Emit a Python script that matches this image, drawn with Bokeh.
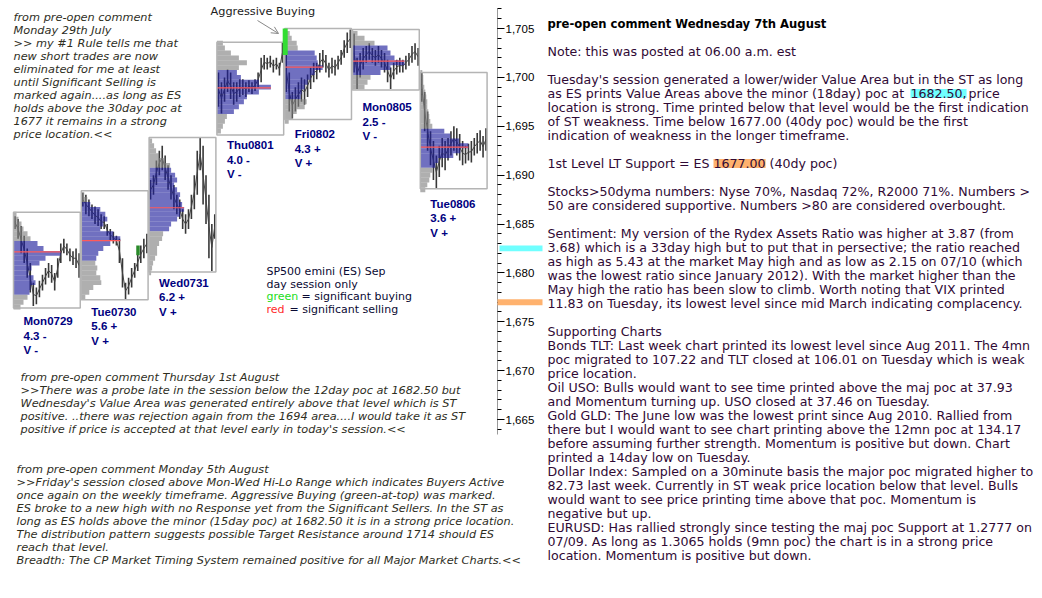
from bokeh.plotting import figure
from bokeh.models import (Range1d, Label, Arrow, OpenHead,
                          SingleIntervalTicker, NumeralTickFormatter)
from bokeh.embed import file_html
from bokeh.resources import INLINE

# ---------------- data ----------------
days = ["Mon0729", "Tue0730", "Wed0731", "Thu0801", "Fri0802", "Mon0805", "Tue0806"]
day_range = ["4.3 -", "5.6 +", "6.2 +", "4.0 -", "4.3 +", "2.5 -", "3.6 +"]
day_vol = ["V -", "V +", "V +", "V -", "V +", "V -", "V +"]
day_high = [1686.2, 1688.4, 1693.85, 1703.6, 1705.0, 1704.9, 1700.5]
day_low = [1676.4, 1677.25, 1680.1, 1694.1, 1695.7, 1698.7, 1688.6]
poc = [1682.15, 1683.3, 1686.66, 1698.93, 1701.04, 1701.66, 1692.86]
va_high = [1683.0, 1687.0, 1690.5, 1700.5, 1702.5, 1703.0, 1694.5]
va_low = [1678.0, 1681.5, 1684.5, 1696.5, 1698.0, 1700.5, 1691.0]

# volume profile rows (0.5 pt), listed from the top row price downward
prof_top = [1686.0, 1688.0, 1693.5, 1703.5, 1704.5, 1704.5, 1700.5]
prof_mon0729 = [3, 5, 8, 10, 14, 17, 24, 30, 47, 32, 26, 18, 15, 20, 22, 17, 16, 14, 10, 7]
prof_tue0730 = [3, 6, 9, 19, 24, 26, 22, 19, 32, 39, 29, 22, 17, 15, 14, 16, 15, 19, 20, 12, 8, 4]
prof_wed0731 = [3, 5, 7, 10, 16, 21, 22, 26, 28, 25, 28, 31, 30, 33, 35, 31, 28, 22, 20,
                14, 13, 10, 8, 8, 6, 4, 3, 2]
prof_thu0801 = [6, 8, 14, 22, 30, 22, 20, 24, 42, 54, 42, 30, 27, 22, 17, 10, 8, 6, 4]
prof_fri0802 = [5, 7, 12, 13, 30, 32, 33, 38, 30, 26, 23, 20, 17, 16, 22, 20, 12, 8, 4]
prof_mon0805 = [5, 12, 22, 35, 38, 42, 52, 38, 28, 18, 15, 12]
prof_tue0806 = [2, 3, 3, 4, 5, 6, 7, 7, 8, 9, 10, 12, 24, 30, 39, 48, 40, 33, 18, 15,
                12, 10, 9, 7, 5]
profiles = [prof_mon0729, prof_tue0730, prof_wed0731, prof_thu0801,
            prof_fri0802, prof_mon0805, prof_tue0806]

# price bars (high / low)
hi_mon0729 = [1685.8, 1685.5, 1684.8, 1683.8, 1682.5, 1681.0, 1679.0, 1678.5, 1679.2, 1679.8, 1680.5,
              1681.0, 1680.8, 1680.0, 1681.5, 1683.0, 1683.5, 1683.0, 1682.5, 1682.2, 1682.5, 1682.0]
lo_mon0729 = [1684.5, 1683.5, 1682.0, 1681.0, 1679.5, 1678.0, 1676.6, 1676.8, 1677.5, 1678.2, 1678.8,
              1679.5, 1679.0, 1678.2, 1679.5, 1681.0, 1682.0, 1681.8, 1681.2, 1680.8, 1680.5, 1679.5]
hi_tue0730 = [1688.2, 1688.0, 1687.5, 1687.0, 1686.8, 1686.5, 1686.0, 1685.8, 1685.0, 1684.5, 1684.2,
              1683.8, 1683.5, 1681.5, 1679.0, 1679.5, 1680.5, 1681.0, 1682.0, 1682.8, 1683.5, 1684.0]
lo_tue0730 = [1686.8, 1686.0, 1685.8, 1685.5, 1685.0, 1684.8, 1684.5, 1684.5, 1683.8, 1683.3, 1683.0,
              1682.8, 1681.0, 1678.5, 1677.3, 1677.8, 1678.5, 1679.5, 1680.2, 1681.0, 1681.5, 1682.0]
hi_wed0731 = [1689.5, 1690.0, 1691.5, 1692.5, 1693.0, 1692.0, 1691.0, 1690.0, 1689.0, 1688.0, 1687.5,
              1686.5, 1686.0, 1686.5, 1688.0, 1690.0, 1692.5, 1693.8, 1693.0, 1690.0, 1688.0, 1685.0, 1686.0]
lo_wed0731 = [1687.5, 1688.0, 1689.0, 1690.0, 1690.5, 1689.5, 1688.5, 1687.5, 1686.5, 1686.0, 1685.5,
              1684.5, 1684.0, 1684.5, 1685.5, 1686.5, 1688.0, 1690.5, 1687.0, 1685.0, 1681.5, 1680.2, 1683.5]
hi_thu0801 = [1700.5, 1699.5, 1700.0, 1700.8, 1700.5, 1699.5, 1699.5, 1699.8, 1699.8, 1699.5, 1699.7,
              1699.5, 1699.8, 1700.5, 1702.0, 1702.3, 1702.0, 1702.2, 1701.8, 1702.0, 1701.5, 1703.6]
lo_thu0801 = [1697.0, 1696.3, 1697.5, 1698.5, 1697.8, 1697.2, 1697.5, 1698.0, 1698.2, 1698.0, 1698.5,
              1698.3, 1698.6, 1699.0, 1699.5, 1700.8, 1700.8, 1701.0, 1700.5, 1700.8, 1700.2, 1701.5]
hi_fri0802 = [1703.0, 1700.5, 1698.5, 1699.0, 1699.5, 1700.0, 1699.8, 1700.3, 1701.0, 1701.5, 1701.5,
              1702.5, 1702.8, 1702.3, 1701.5, 1702.0, 1701.8, 1702.2, 1702.8, 1703.8, 1704.6, 1704.9]
lo_fri0802 = [1698.5, 1696.5, 1695.8, 1696.5, 1697.0, 1697.5, 1697.2, 1698.0, 1698.8, 1699.5, 1699.8,
              1700.5, 1701.0, 1700.5, 1700.0, 1700.4, 1700.2, 1700.8, 1701.3, 1702.0, 1702.5, 1703.0]
hi_mon0805 = [1704.5, 1702.0, 1702.5, 1703.0, 1703.2, 1703.5, 1703.0, 1702.8, 1703.2, 1702.8, 1702.5,
              1701.8, 1701.0, 1701.5, 1701.8, 1702.0, 1701.8, 1702.2, 1702.5, 1703.2, 1703.5, 1703.0]
lo_mon0805 = [1700.5, 1698.8, 1700.0, 1700.8, 1701.5, 1701.8, 1701.5, 1701.2, 1701.5, 1701.0, 1700.5,
              1699.5, 1698.8, 1699.8, 1700.3, 1700.5, 1700.5, 1700.8, 1701.2, 1701.5, 1701.8, 1701.2]
hi_tue0806 = [1700.5, 1698.5, 1696.5, 1694.5, 1693.5, 1692.0, 1693.0, 1693.8, 1693.5, 1693.8, 1694.5,
              1695.0, 1694.8, 1694.2, 1693.5, 1693.0, 1693.2, 1693.5, 1693.8, 1694.3, 1694.6, 1694.0, 1694.8]
lo_tue0806 = [1697.5, 1694.5, 1692.5, 1691.0, 1689.5, 1688.6, 1689.8, 1690.8, 1690.5, 1691.5, 1692.0,
              1692.5, 1692.0, 1691.5, 1691.0, 1691.2, 1691.5, 1691.3, 1692.0, 1692.2, 1692.5, 1691.8, 1692.5]
bar_hi = [hi_mon0729, hi_tue0730, hi_wed0731, hi_thu0801, hi_fri0802, hi_mon0805, hi_tue0806]
bar_lo = [lo_mon0729, lo_tue0730, lo_wed0731, lo_thu0801, lo_fri0802, lo_mon0805, lo_tue0806]

# significant buying marks: (day index, session fraction, low, high)
buy_day = [1, 4]
buy_time = [0.84, 0.0]
buy_low = [1681.8, 1702.3]
buy_high = [1682.8, 1705.0]

# key levels marked beside the price scale
level_18day_poc = 1682.5
level_40day_poc = 1677.0

left_note = ["from pre-open comment", "Monday 29th July", ">> my #1 Rule tells me that",
             "new short trades are now", "eliminated for me at least",
             "until Significant Selling is", "marked again....as long as ES",
             "holds above the 30day poc at", "1677 it remains in a strong", "price location.<<"]
note_thu = ["from pre-open comment Thursday 1st August",
            ">>There was a probe late in the session below the 12day poc at 1682.50 but",
            "Wednesday's Value Area was generated entirely above that level which is ST",
            "positive. ..there was rejection again from the 1694 area....I would take it as ST",
            "positive if price is accepted at that level early in today's session.<<"]
note_mon = ["from pre-open comment Monday 5th August",
            ">>Friday's session closed above Mon-Wed Hi-Lo Range which indicates Buyers Active",
            "once again on the weekly timeframe.  Aggressive Buying (green-at-top) was marked.",
            "ES broke to a new high with no Response yet from the Significant Sellers.  In the ST as",
            "long as ES holds above the minor (15day poc) at 1682.50  it is in a strong price location.",
            "The distribution pattern suggests possible Target Resistance around 1714 should ES",
            "reach that level.",
            "Breadth: The CP Market Timing System remained positive for all Major Market Charts.<<"]
legend_lines = ["SP500 emini (ES) Sep", "day session only"]
right_title = "pre-open comment Wednesday 7th August"
right_lines = ["", "",
               "Note: this was posted at 06.00 a.m. est", "",
               "Tuesday's session generated a lower/wider Value Area but in the ST as long",
               "as ES prints Value Areas above the minor (18day) poc at 1682.50, price",
               "location is strong. Time printed below that level would be the first indication",
               "of ST weakness.  Time below 1677.00 (40dy poc) would be the first",
               "indication of weakness in the longer timeframe.", "",
               "1st Level LT Support = ES 1677.00 (40dy poc)", "",
               "Stocks>50dyma numbers: Nyse 70%, Nasdaq 72%, R2000 71%.  Numbers >",
               "50 are considered supportive.   Numbers >80 are considered overbought.", "",
               "Sentiment: My version of the Rydex Assets Ratio was higher at 3.87 (from",
               "3.68) which is a 33day high but to put that in persective; the ratio reached",
               "as high as 5.43 at the market May high and as low as 2.15 on 07/10 (which",
               "was the lowest ratio since January 2012).   With the market higher than the",
               "May high the ratio has been slow to climb.  Worth noting that VIX printed",
               "11.83 on Tuesday,  its lowest level since mid March indicating complacency.", "",
               "Supporting Charts",
               "Bonds TLT: Last week chart printed its lowest level since Aug 2011.  The 4mn",
               "poc migrated to 107.22 and TLT closed at 106.01 on Tuesday which is weak",
               "price location.",
               "Oil USO: Bulls would want to see time printed above the maj poc at 37.93",
               "and Momentum turning up. USO closed at 37.46 on Tuesday.",
               "Gold  GLD:  The June low was the lowest print since Aug 2010.  Rallied from",
               "there but I would want to see chart printing above the 12mn poc at 134.17",
               "before assuming further strength. Momentum is positive but down. Chart",
               "printed a 14day low on Tuesday.",
               "Dollar Index:  Sampled on a 30minute basis the major poc migrated higher to",
               "82.73 last week. Currently in ST weak price location below that level. Bulls",
               "would want to see price printing time above that poc.  Momentum is",
               "negative but up.",
               "EURUSD: Has rallied strongly since testing the maj poc Support at 1.2777 on",
               "07/09.  As long as 1.3065 holds (9mn poc) the chart is in a strong price",
               "location. Momentum is positive but down."]
highlight_text = ["1682.50,", "1677.00"]
highlight_line = [5, 10]

# ---------------- layout constants ----------------
W, H = 1042, 598
AXIS_PX = 497
DAY_PX = 67.8
X0_PX = 13.0
PX_PER_PT = 9.775
REF_PRICE, REF_Y = 1705.0, 28.0
LABEL_DY = -4.0


def xd(px):
    return (px - X0_PX) / DAY_PX


def yp(py):
    return REF_PRICE - (py - REF_Y) / PX_PER_PT


p = figure(width=W, height=H, output_backend="svg", toolbar_location=None,
           x_range=Range1d(xd(0), xd(W)), y_range=Range1d(yp(H), yp(0)),
           x_axis_location=None, y_axis_location="right", min_border=0)
p.outline_line_color = None
p.grid.visible = False
p.background_fill_color = "white"
p.border_fill_color = "white"

ax = p.yaxis[0]
ax.fixed_location = xd(AXIS_PX)
ax.ticker = SingleIntervalTicker(interval=5, num_minor_ticks=5)
ax.formatter = NumeralTickFormatter(format="0,0")
ax.bounds = (1663.5, 1707.0)
ax.axis_line_color = "#9a9a9a"
ax.major_tick_line_color = "black"
ax.minor_tick_line_color = "black"
ax.major_tick_in = 0
ax.major_tick_out = 7
ax.minor_tick_in = 0
ax.minor_tick_out = 4
ax.major_label_standoff = 1
ax.major_label_text_font = "Liberation Sans"
ax.major_label_text_font_size = "11.5px"
ax.major_label_text_color = "black"

ROW = 0.5
BLUE, GRAY = "#1c1c9c", "#808080"

# price bars
for d in range(len(days)):
    n = len(bar_hi[d])
    xs = [d + (i + 0.5) / n * 0.99 for i in range(n)]
    p.segment(x0=xs, x1=xs, y0=bar_lo[d], y1=bar_hi[d], line_color="#383838", line_width=1.6)
    mids = [(bar_hi[d][i] + bar_lo[d][i]) / 2 for i in range(n)]
    p.line(xs, mids, line_color="#444444", line_width=1)

# profiles
ql, qr, qt, qb, qc = [], [], [], [], []
for d, prof in enumerate(profiles):
    for k, w in enumerate(prof):
        price = prof_top[d] - k * ROW
        ql.append(d)
        qr.append(d + w / DAY_PX)
        qt.append(price + ROW / 2)
        qb.append(price - ROW / 2)
        inside = va_low[d] - 0.01 <= price <= va_high[d] + 0.01
        qc.append(BLUE if inside else GRAY)
p.quad(left=ql, right=qr, top=qt, bottom=qb, fill_color=qc, fill_alpha=0.63, line_color=None)

# poc lines
px0 = list(range(len(days)))
px1 = [d + max(profiles[d]) / DAY_PX for d in range(len(days))]
p.segment(x0=px0, x1=px1, y0=poc, y1=poc, line_color="#ff5a5a", line_width=1.2)

# day boxes
p.quad(left=px0, right=[d + 0.985 for d in px0], top=day_high, bottom=day_low,
       fill_color=None, line_color="#b4b4b4", line_width=1.5)

# buying marks
bl = [buy_day[i] + buy_time[i] - 2.0 / DAY_PX for i in range(len(buy_day))]
br = [buy_day[i] + buy_time[i] + (3.0 if buy_time[i] == 0 else 1.5) / DAY_PX for i in range(len(buy_day))]
p.quad(left=bl, right=br, top=buy_high, bottom=buy_low,
       fill_color=["#2a8a2a", "#33dd33"], line_color=None)

# key level marks beside the price scale
lv = [level_18day_poc, level_40day_poc]
p.quad(left=[xd(AXIS_PX + 2), xd(AXIS_PX)], right=[xd(542), xd(542)],
       bottom=[v - 0.3 for v in lv], top=[v + 0.3 for v in lv],
       fill_color=["#70ffff", "#ffb26e"], line_color=None, level="overlay")


def label(x_px, y_px, s, size, color, font="DejaVu Sans", style="normal", bg=None):
    kw = {}
    if bg is not None:
        kw = dict(background_fill_color=bg, background_fill_alpha=1.0)
    p.add_layout(Label(x=xd(x_px), y=yp(y_px + LABEL_DY), text=s, text_font=font,
                       text_font_size=size, text_color=color, text_font_style=style,
                       text_baseline="alphabetic", text_align="left", **kw))


# day labels
label_shift = [0, -1, -2, -3, 2, 4, 2]
for d in range(len(days)):
    base_px = REF_Y + (REF_PRICE - day_low[d]) * PX_PER_PT + 17 + label_shift[d]
    x_px = X0_PX + d * DAY_PX + 10
    for j, s in enumerate([days[d], day_range[d], day_vol[d]]):
        label(x_px, base_px + 14.5 * j, s, "11.5px", "#000080", font="Liberation Sans", style="bold")

# notes
NOTE_C = "#2e2e1e"
for i, s in enumerate(left_note):
    label(13, 21 + 13 * i, s, "11.3px", NOTE_C, style="italic")
for i, s in enumerate(note_thu):
    label(20, 381 + 13 * i, s, "11.3px", NOTE_C, style="italic")
for i, s in enumerate(note_mon):
    label(16, 473 + 13 * i, s, "11.3px", NOTE_C, style="italic")

# aggressive buying annotation
label(210, 15, "Aggressive Buying", "11.3px", "#222222")
p.add_layout(Arrow(end=OpenHead(size=7, line_color="#888888", line_width=1),
                   x_start=xd(257), y_start=yp(20), x_end=xd(278), y_end=yp(33),
                   line_color="#888888", line_width=1))

# legend text
LEG_C = "#0a0a33"
label(266, 275, legend_lines[0], "11px", LEG_C)
label(266, 288, legend_lines[1], "11px", LEG_C)
label(266, 300, "green", "11px", "#22dd22")
label(301, 300, "= significant buying", "11px", LEG_C)
label(266, 313, "red", "11px", "#ff2a2a")
label(289, 313, "= significant selling", "11px", LEG_C)

# right commentary
TXT_C = "#300a35"
RSIZE = "12.6px"
label(547, 27, right_title, "11.6px", "black", style="bold")
hl_pos = [(910, 968, "#70ffff"), (713, 769, "#ffb26e")]
for i, s in enumerate(right_lines):
    if not s:
        continue
    y = 27 + 14 * i
    if i in highlight_line:
        k = highlight_line.index(i)
        h = highlight_text[k]
        pre, post = s.split(h, 1)
        hx, sx, col = hl_pos[k]
        label(547, y, pre.rstrip(), RSIZE, TXT_C)
        label(hx, y, h, RSIZE, TXT_C, bg=col)
        label(sx, y, post.strip(), RSIZE, TXT_C)
    else:
        label(547, y, s, RSIZE, TXT_C)

open("out.html", "w").write(file_html(p, INLINE))
